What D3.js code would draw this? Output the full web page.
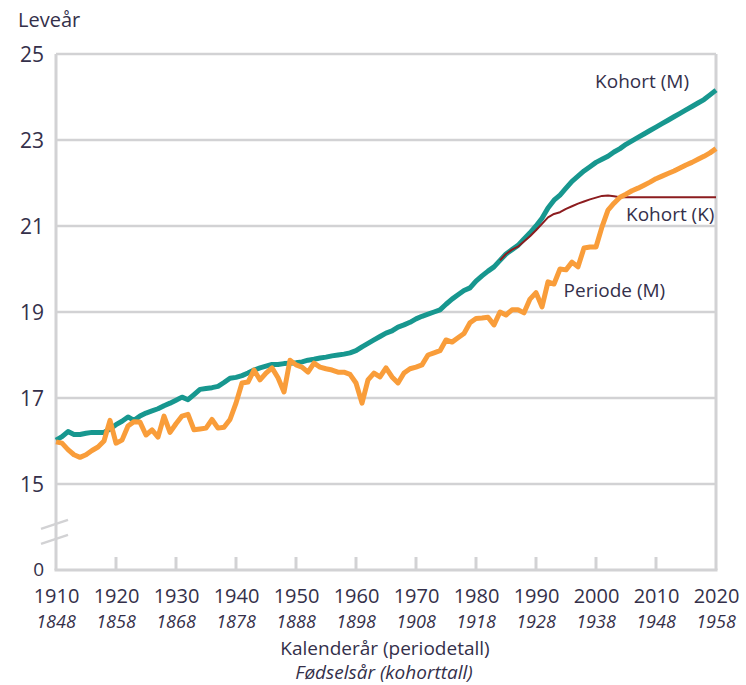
<!DOCTYPE html>
<html>
<head>
<meta charset="utf-8">
<script src="https://cdn.jsdelivr.net/npm/d3@7"></script>
<style>
  body { margin: 0; background: #fff; }
  text { font-family: "Open Sans", "Noto Sans", sans-serif; fill: #34304a; }
</style>
</head>
<body>
<div id="chart"></div>
<script>
// series values (remaining life expectancy at 62, men / women)
var years = d3.range(1910, 2021);
var kohortM = [
  16.02, 16.10, 16.22, 16.15, 16.15, 16.18, 16.20, 16.20, 16.20, 16.28,
  16.38, 16.46, 16.56, 16.48, 16.58, 16.65, 16.70, 16.75, 16.82, 16.88,
  16.95, 17.02, 16.96, 17.08, 17.20, 17.22, 17.24, 17.27, 17.36, 17.46,
  17.48, 17.52, 17.58, 17.65, 17.70, 17.74, 17.78, 17.78, 17.80, 17.81,
  17.82, 17.84, 17.88, 17.90, 17.93, 17.95, 17.98, 18.00, 18.02, 18.05,
  18.10, 18.19, 18.27, 18.35, 18.43, 18.51, 18.56, 18.65, 18.70, 18.76,
  18.84, 18.90, 18.95, 19.00, 19.05, 19.18, 19.30, 19.40, 19.50, 19.56,
  19.72, 19.84, 19.95, 20.05, 20.20, 20.35, 20.45, 20.55, 20.70, 20.84,
  21.00, 21.18, 21.42, 21.60, 21.72, 21.88, 22.04, 22.16, 22.28, 22.38,
  22.48, 22.55, 22.62, 22.72, 22.80, 22.90, 22.98, 23.06, 23.14, 23.22,
  23.30, 23.38, 23.46, 23.54, 23.62, 23.70, 23.78, 23.86, 23.94, 24.05,
  24.16
];
var periodeM = [
  15.98, 15.95, 15.80, 15.68, 15.62, 15.68, 15.78, 15.86, 16.00, 16.48,
  15.95, 16.02, 16.35, 16.45, 16.44, 16.14, 16.26, 16.09, 16.58, 16.20,
  16.40, 16.58, 16.62, 16.26, 16.28, 16.30, 16.50, 16.30, 16.32, 16.50,
  16.88, 17.35, 17.37, 17.65, 17.42, 17.58, 17.70, 17.47, 17.14, 17.88,
  17.77, 17.72, 17.60, 17.81, 17.72, 17.68, 17.65, 17.60, 17.60, 17.55,
  17.35, 16.88, 17.42, 17.58, 17.49, 17.70, 17.49, 17.35, 17.58, 17.68,
  17.72, 17.77, 18.00, 18.05, 18.10, 18.35, 18.30, 18.40, 18.50, 18.75,
  18.85, 18.86, 18.88, 18.70, 19.00, 18.93, 19.05, 19.05, 18.98, 19.30,
  19.45, 19.12, 19.70, 19.65, 20.00, 19.98, 20.16, 20.05, 20.49, 20.51,
  20.51, 20.98, 21.37, 21.53, 21.67, 21.74, 21.82, 21.88, 21.95, 22.02,
  22.10, 22.16, 22.22, 22.28, 22.35, 22.42, 22.48, 22.55, 22.62, 22.70,
  22.80
];
var yearsK = d3.range(1984, 2021);
var kohortK = [
  20.20, 20.35, 20.45, 20.52, 20.64, 20.76, 20.90, 21.05, 21.20, 21.28,
  21.32, 21.40, 21.46, 21.52, 21.57, 21.62, 21.66, 21.70, 21.71, 21.69,
  21.67, 21.67, 21.67, 21.67, 21.67, 21.67, 21.67, 21.67, 21.67, 21.67,
  21.67, 21.67, 21.67, 21.67, 21.67, 21.67, 21.67
];

// tick labels
var periodTicks = d3.range(1910, 2021, 10);
var cohortTicks = ["1848", "1858", "1868", "1878", "1888", "1898", "1908", "1918", "1928", "1938", "1948", "1958"];
var yTicks = [25, 23, 21, 19, 17, 15];

// layout
var svgWidth = 746, svgHeight = 685;
var margin = { top: 54, right: 30, bottom: 115, left: 56 };
var width = svgWidth - margin.left - margin.right;
var height = svgHeight - margin.top - margin.bottom;

var grey = "#d2d2d4";
var teal = "#17978f";
var orange = "#f99d3a";
var red = "#8c1c1f";

var svg = d3.select("#chart")
  .append("svg")
  .attr("width", svgWidth)
  .attr("height", svgHeight);

var chartGroup = svg.append("g")
  .attr("transform", `translate(${margin.left}, ${margin.top})`);

// x scale by year, y scale with a break: 0 is drawn where 13 would be
var xScale = d3.scaleLinear().domain([1910, 2020]).range([0, width]);
var yScale = d3.scaleLinear().domain([13, 25]).range([height, 0]);

// gridlines
chartGroup.selectAll(".grid")
  .data(yTicks)
  .enter()
  .append("line")
  .attr("x1", 0)
  .attr("x2", width)
  .attr("y1", d => yScale(d))
  .attr("y2", d => yScale(d))
  .attr("stroke", grey)
  .attr("stroke-width", 2.5);

// frame: left, right, bottom
chartGroup.append("line")
  .attr("x1", 0).attr("x2", 0)
  .attr("y1", 0).attr("y2", height)
  .attr("stroke", grey).attr("stroke-width", 3);
chartGroup.append("line")
  .attr("x1", width).attr("x2", width)
  .attr("y1", 0).attr("y2", height)
  .attr("stroke", grey).attr("stroke-width", 3);
chartGroup.append("line")
  .attr("x1", -1.5).attr("x2", width + 1.5)
  .attr("y1", height).attr("y2", height)
  .attr("stroke", grey).attr("stroke-width", 3);

// bottom axis
var bottomAxis = d3.axisBottom(xScale)
  .tickValues(periodTicks)
  .tickFormat(d3.format("d"))
  .tickSize(0)
  .tickPadding(19);
var xAxis = chartGroup.append("g")
  .attr("transform", `translate(0, ${height})`)
  .call(bottomAxis);
xAxis.select(".domain").remove();
xAxis.selectAll("text")
  .style("font-size", "20px")
  .attr("fill", null);

// upward ticks on bottom line
chartGroup.selectAll(".xtick")
  .data(periodTicks.slice(1, -1))
  .enter()
  .append("line")
  .attr("x1", d => xScale(d))
  .attr("x2", d => xScale(d))
  .attr("y1", height)
  .attr("y2", height - 13)
  .attr("stroke", grey)
  .attr("stroke-width", 3);

// cohort year labels
chartGroup.selectAll(".cohort")
  .data(cohortTicks)
  .enter()
  .append("text")
  .attr("x", (d, i) => xScale(periodTicks[i]))
  .attr("y", height + 58)
  .attr("text-anchor", "middle")
  .style("font-size", "18px")
  .style("font-style", "italic")
  .text(d => d);

// left axis labels
var leftAxis = d3.axisLeft(yScale)
  .tickValues(yTicks.concat([13]))
  .tickFormat(d => d === 13 ? "0" : d)
  .tickSize(0)
  .tickPadding(12);
var yAxis = chartGroup.append("g").call(leftAxis);
yAxis.select(".domain").remove();
yAxis.selectAll("text")
  .style("font-size", d => d === 13 ? "19px" : "21px")
  .attr("fill", null)
  .attr("dy", d => d === 13 ? "0.3em" : "0.36em");

// axis break marks
var breakLine = d3.line();
[14.05, 13.7].forEach(function(v) {
  chartGroup.append("path")
    .attr("d", breakLine([[-15, yScale(v) + 4], [12, yScale(v) - 5]]))
    .attr("stroke", grey)
    .attr("stroke-width", 2.5)
    .attr("fill", "none");
});

// y title
svg.append("text")
  .attr("x", 18)
  .attr("y", 27)
  .style("font-size", "20px")
  .text("Leveår");

// lines
var lineM = d3.line()
  .x((d, i) => xScale(years[i]))
  .y(d => yScale(d));
var lineK = d3.line()
  .x((d, i) => xScale(yearsK[i]))
  .y(d => yScale(d));

chartGroup.append("path")
  .datum(kohortM)
  .attr("d", lineM)
  .attr("fill", "none")
  .attr("stroke", teal)
  .attr("stroke-width", 5)
  .attr("stroke-linejoin", "round");

chartGroup.append("path")
  .datum(kohortK)
  .attr("d", lineK)
  .attr("fill", "none")
  .attr("stroke", red)
  .attr("stroke-width", 2)
  .attr("stroke-linejoin", "round");

chartGroup.append("path")
  .datum(periodeM)
  .attr("d", lineM)
  .attr("fill", "none")
  .attr("stroke", orange)
  .attr("stroke-width", 5)
  .attr("stroke-linejoin", "round");

// series labels
chartGroup.append("text")
  .attr("x", xScale(2015.5))
  .attr("y", yScale(24.21))
  .attr("text-anchor", "end")
  .style("font-size", "19px")
  .text("Kohort (M)");
chartGroup.append("text")
  .attr("x", xScale(2005))
  .attr("y", yScale(21.12))
  .style("font-size", "19px")
  .text("Kohort (K)");
chartGroup.append("text")
  .attr("x", xScale(1994.6))
  .attr("y", yScale(19.35))
  .style("font-size", "19px")
  .text("Periode (M)");

// x titles
svg.append("text")
  .attr("x", 385)
  .attr("y", 655)
  .attr("text-anchor", "middle")
  .style("font-size", "19px")
  .text("Kalenderår (periodetall)");
svg.append("text")
  .attr("x", 384)
  .attr("y", 679)
  .attr("text-anchor", "middle")
  .style("font-size", "19px")
  .style("font-style", "italic")
  .text("Fødselsår (kohorttall)");
</script>
</body>
</html>
